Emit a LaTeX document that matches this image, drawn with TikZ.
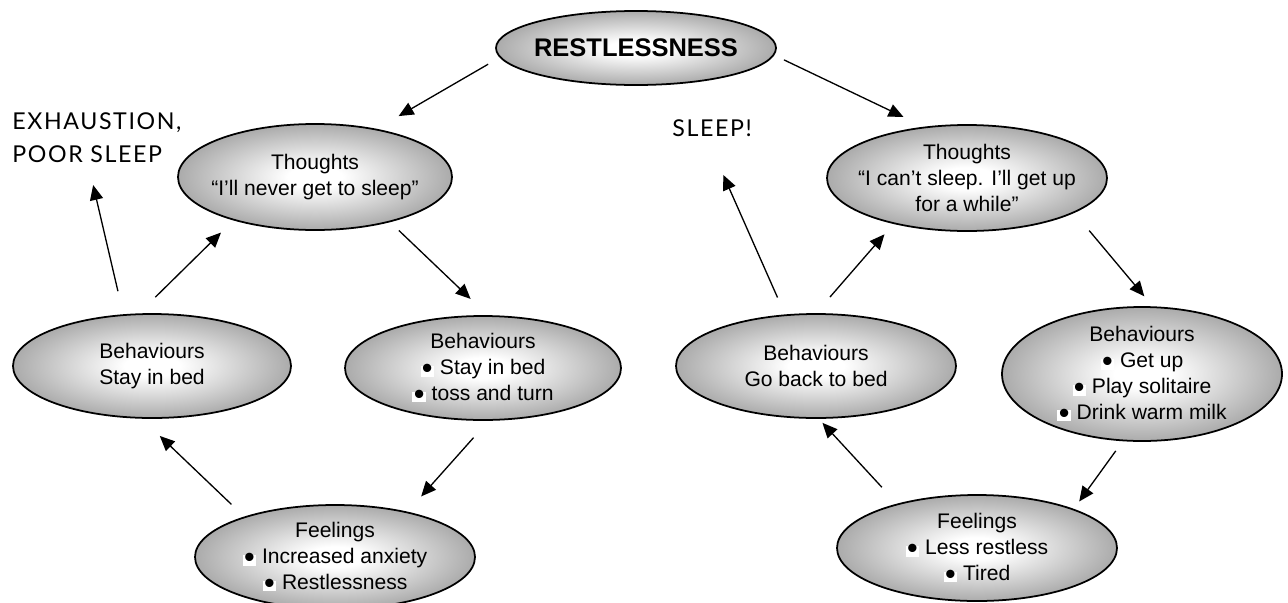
\documentclass[tikz,border=0pt]{standalone}
\usepackage{fontspec}
\setmainfont{Liberation Sans}
\newfontfamily\capfont{Lato}[LetterSpace=7]
\usetikzlibrary{arrows.meta,shapes.geometric}

\newdimen\pxu
\pxu=0.02cm
\pgfdeclareradialshading{bubbleshade}{\pgfpoint{0bp}{0bp}}{color(0bp)=(white); color(5bp)=(white); color(28bp)=(black!38); color(50bp)=(black!62)}
\newcommand{\blt}{{\setlength{\fboxsep}{0.8pt}\colorbox{white}{\raisebox{-2.1pt}[4.3pt][0.3pt]{\scalebox{1.45}{\textbullet}}}}}

\begin{document}
\begin{tikzpicture}[x=0.02cm,y=-0.02cm,
    bubble/.style={ellipse,draw,line width=1pt,shading=bubbleshade,align=center,inner sep=0pt,
      minimum width=280\pxu,minimum height=104\pxu,font=\fontsize{12}{14.7}\selectfont},
    note/.style={inner sep=0pt,align=left,font=\capfont\fontsize{13.2}{19}\selectfont},
    arr/.style={line width=0.75pt,-{Triangle[length=8.5pt,width=7.5pt]}}]
  \useasboundingbox (0,0) rectangle (1288,602);
  % top
  \node[bubble,minimum height=74\pxu,inner xsep=-3pt,font=\fontsize{14.5}{17}\selectfont\bfseries] (rest) at (636,48) {RESTLESSNESS};
  % left cycle
  \node[bubble,minimum width=274\pxu,minimum height=106\pxu,inner xsep=-7pt] (thL) at (315,177) {Thoughts\\“I’ll never get to sleep”};
  \node[bubble,minimum width=278\pxu] (bhL) at (152,366) {Behaviours\\Stay in bed};
  \node[bubble,minimum width=276\pxu] (bhM) at (483,368) {Behaviours\\\blt{} Stay in bed\\\blt{} toss and turn};
  \node[bubble] (feL) at (335,557) {Feelings\\\blt{} Increased anxiety\\\blt{} Restlessness};
  \node[note,anchor=south west] (exh) at (12,163) {EXHAUSTION,\\POOR SLEEP};
  % right cycle
  \node[bubble,minimum height=106\pxu,inner xsep=-7pt] (thR) at (967,178) {Thoughts\\“I can’t sleep. I’ll get up\\for a while”};
  \node[bubble,minimum height=134\pxu] (bhR) at (1142,374) {Behaviours\\\blt{} Get up\\\blt{} Play solitaire\\\blt{} Drink warm milk};
  \node[bubble,minimum height=106\pxu] (feR) at (977,548) {Feelings\\\blt{} Less restless\\\blt{} Tired};
  \node[bubble] (gbb) at (816,366) {Behaviours\\Go back to bed};
  \node[note,anchor=south west] (slp) at (672,137) {SLEEP!};
  % arrows
  \draw[arr,shorten <=13.3\pxu,shorten >=25.4\pxu] (rest.184.45) -- (thL.38);
  \draw[arr,shorten <=12\pxu,shorten >=23.5\pxu] (thL.-31.5) -- (bhM.85.4);
  \draw[arr,shorten <=22.5\pxu,shorten >=20.4\pxu] (bhM.-84.6) -- (feL.32);
  \draw[arr,shorten <=17.7\pxu,shorten >=24.9\pxu] (feL.156.2) -- (bhL.259);
  \draw[arr,shorten <=23.1\pxu,shorten >=17.3\pxu] (bhL.104.5) -- (thL.208);
  \draw[arr,shorten <=23.7\pxu,shorten >=22.6\pxu] (bhL.119.3) -- ([xshift=76\pxu]exh.south west);
  \draw[arr,shorten <=10.7\pxu,shorten >=22.7\pxu] (rest.-3.6) -- (thR.130);
  \draw[arr,shorten <=23.1\pxu,shorten >=13.1\pxu] (thR.-18.8) -- (bhR.81.9);
  \draw[arr,shorten <=11.9\pxu,shorten >=9.1\pxu] (bhR.254.9) -- (feR.22.1);
  \draw[arr,shorten <=22.3\pxu,shorten >=5.4\pxu] (feR.151.5) -- (gbb.-87.4);
  \draw[arr,shorten <=21.3\pxu,shorten >=13.7\pxu] (gbb.north) -- (thR.212.8);
  \draw[arr,shorten <=18.5\pxu,shorten >=41.5\pxu] (gbb.121.4) -- ([xshift=34.5\pxu]slp.south west);
\end{tikzpicture}
\end{document}
